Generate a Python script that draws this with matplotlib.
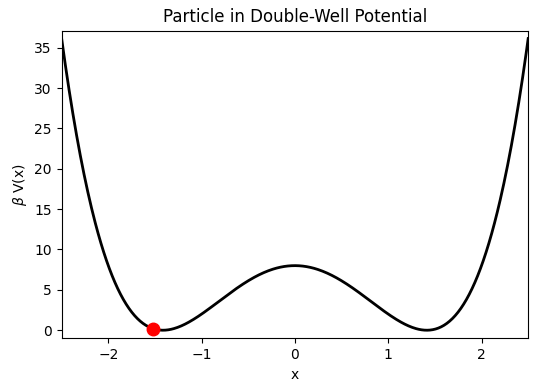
import numpy as np
import matplotlib
matplotlib.use("Agg")
import matplotlib.pyplot as plt

# Double-well potential: minima at x = ±sqrt(2) (value 0),
# barrier height 8 at x = 0  ->  beta V(x) = 2 (x^2 - 2)^2
barrier_height = 8.0
well_position = np.sqrt(2.0)
x_range = [-2.5, 2.5]
particle_x = [-1.52]

x = np.linspace(x_range[0], x_range[1], 500)
def beta_V(xx):
    return barrier_height * (xx**2 - well_position**2) ** 2 / well_position**4

fig = plt.figure(figsize=(5.36, 3.91), dpi=100)
ax = fig.add_axes([0.115, 0.1348, 0.8704, 0.7867])
ax.plot(x, beta_V(x), color="black", linewidth=2)
px = np.array(particle_x)
ax.plot(px, beta_V(px), "o", color="red", markersize=9)
ax.set_xlim(x_range)
ax.set_ylim(-1, 37.1)
ax.set_xlabel("x")
ax.set_ylabel(r"$\beta$ V(x)")
ax.set_title("Particle in Double-Well Potential")
fig.savefig("out.png", dpi=100)
